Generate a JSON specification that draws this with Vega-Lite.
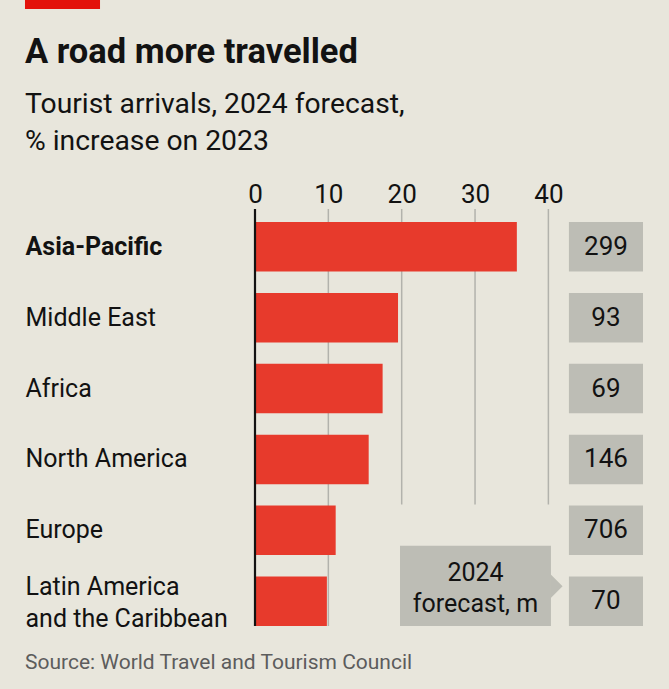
{
  "$schema": "https://vega.github.io/schema/vega-lite/v6.json",
  "width": 388,
  "height": 430,
  "autosize": {"type": "none"},
  "padding": {"left": 255, "top": 209, "right": 26, "bottom": 50},
  "background": "#e8e6dc",
  "config": {"view": {"stroke": null}, "font": "Roboto"},
  "title": {
    "text": "A road more travelled",
    "subtitle": ["Tourist arrivals, 2024 forecast,", "% increase on 2023"],
    "anchor": "start",
    "frame": "bounds",
    "font": "Roboto",
    "fontSize": 34.5,
    "fontWeight": "bold",
    "color": "#121212",
    "subtitleFont": "Roboto",
    "subtitleFontSize": 28.3,
    "subtitleColor": "#121212",
    "subtitleLineHeight": 37,
    "subtitlePadding": 20,
    "offset": -156
  },
  "data": {
    "values": [
      {"region": "Asia-Pacific", "pct": 35.7, "arrivals": 299},
      {"region": "Middle East", "pct": 19.5, "arrivals": 93},
      {"region": "Africa", "pct": 17.4, "arrivals": 69},
      {"region": "North America", "pct": 15.5, "arrivals": 146},
      {"region": "Europe", "pct": 11.0, "arrivals": 706},
      {"region": "Latin America and the Caribbean", "pct": 9.8, "arrivals": 70}
    ]
  },
  "layer": [
    {
      "data": {"values": [{"v": 10}]},
      "mark": {"type": "rule", "color": "#b2b2ac", "strokeWidth": 1.5},
      "encoding": {
        "x": {"field": "v", "type": "quantitative"},
        "y": {"datum": "Asia-Pacific", "type": "nominal", "bandPosition": -0.262},
        "y2": {"datum": "Latin America and the Caribbean", "bandPosition": 1}
      }
    },
    {
      "data": {"values": [{"v": 20}, {"v": 30}, {"v": 40}]},
      "mark": {"type": "rule", "color": "#b2b2ac", "strokeWidth": 1.5},
      "encoding": {
        "x": {"field": "v", "type": "quantitative"},
        "y": {"datum": "Asia-Pacific", "type": "nominal", "bandPosition": -0.262},
        "y2": {"datum": "Europe", "bandPosition": -0.02}
      }
    },
    {
      "mark": {"type": "bar", "color": "#e73a2c"},
      "encoding": {
        "x": {
          "field": "pct",
          "type": "quantitative",
          "scale": {"domain": [0, 52.9], "nice": false},
          "axis": {
            "orient": "top",
            "values": [0, 10, 20, 30, 40],
            "grid": false,
            "domain": false,
            "ticks": false,
            "tickSize": 0,
            "labelFontSize": 26,
            "labelColor": "#121212",
            "labelBaseline": "alphabetic",
            "labelPadding": 7,
            "labelFlush": false,
            "title": null
          }
        },
        "y": {
          "field": "region",
          "type": "nominal",
          "sort": null,
          "scale": {
            "domain": ["Asia-Pacific", "Middle East", "Africa", "North America", "Europe", "Latin America and the Caribbean"],
            "paddingInner": 0.3,
            "paddingOuter": 0.1834
          },
          "axis": {
            "orient": "left",
            "domain": false,
            "ticks": false,
            "tickSize": 0,
            "labelAlign": "left",
            "labelBaseline": "middle",
            "labelPadding": 230,
            "labelFontSize": 25,
            "labelColor": "#121212",
            "labelLimit": 400,
            "labelLineHeight": 32,
            "labelOffset": {"condition": {"test": "datum.value == 'Latin America and the Caribbean'", "value": -14}, "value": 0},
            "labelFontWeight": {"condition": {"test": "datum.value == 'Asia-Pacific'", "value": "bold"}, "value": "normal"},
            "labelExpr": "datum.value == 'Latin America and the Caribbean' ? ['Latin America', 'and the Caribbean'] : datum.value",
            "title": null
          }
        }
      }
    },
    {
      "data": {"values": [{"v": 0}]},
      "mark": {"type": "rule", "color": "#121212", "strokeWidth": 2.2},
      "encoding": {
        "x": {"field": "v", "type": "quantitative"},
        "y": {"datum": "Asia-Pacific", "type": "nominal", "bandPosition": -0.262},
        "y2": {"datum": "Latin America and the Caribbean", "bandPosition": 1}
      }
    },
    {
      "mark": {"type": "bar", "color": "#bdbdb5"},
      "encoding": {
        "x": {"datum": 42.8, "type": "quantitative"},
        "x2": {"datum": 52.9},
        "y": {"field": "region", "type": "nominal"}
      }
    },
    {
      "mark": {"type": "text", "fontSize": 26, "color": "#121212", "align": "center", "baseline": "middle"},
      "encoding": {
        "x": {"datum": 47.85, "type": "quantitative"},
        "y": {"field": "region", "type": "nominal"},
        "text": {"field": "arrivals", "type": "quantitative"}
      }
    },
    {
      "data": {"values": [{"label": "2024 forecast, m"}]},
      "mark": {"type": "rect", "color": "#bdbdb5"},
      "encoding": {
        "x": {"datum": 19.77, "type": "quantitative"},
        "x2": {"datum": 40.35},
        "y": {"datum": "Europe", "type": "nominal", "bandPosition": 0.81},
        "y2": {"datum": "Latin America and the Caribbean", "bandPosition": 1}
      }
    },
    {
      "data": {"values": [{"label": "2024 forecast, m"}]},
      "mark": {"type": "point", "shape": "M0,-1L1,0L0,1Z", "size": 576, "filled": true, "color": "#bdbdb5", "opacity": 1},
      "encoding": {
        "x": {"datum": 40.3, "type": "quantitative"},
        "y": {"datum": "Latin America and the Caribbean", "type": "nominal", "bandPosition": 0.2}
      }
    },
    {
      "data": {"values": [{"line1": "2024", "line2": "forecast, m"}]},
      "mark": {"type": "text", "fontSize": 25, "color": "#121212", "align": "center", "baseline": "alphabetic", "lineHeight": 31},
      "encoding": {
        "x": {"datum": 30.06, "type": "quantitative"},
        "y": {"datum": "Latin America and the Caribbean", "type": "nominal", "bandPosition": 0.1},
        "text": {"value": ["2024", "forecast, m"]}
      }
    },
    {
      "data": {"values": [{"note": "Source: World Travel and Tourism Council"}]},
      "mark": {"type": "text", "fontSize": 21, "color": "#5c5c5c", "align": "left", "baseline": "alphabetic"},
      "encoding": {
        "x": {"datum": -31.36, "type": "quantitative"},
        "y": {"datum": "Latin America and the Caribbean", "type": "nominal", "bandPosition": 1.863},
        "text": {"field": "note", "type": "nominal"}
      }
    },
    {
      "data": {"values": [{"tag": "accent"}]},
      "mark": {"type": "rect", "color": "#e3120b"},
      "encoding": {
        "x": {"datum": -31.36, "type": "quantitative"},
        "x2": {"datum": -21.13},
        "y": {"datum": "Asia-Pacific", "type": "nominal", "bandPosition": -4.476},
        "y2": {"datum": "Asia-Pacific", "bandPosition": -4.294}
      }
    }
  ]
}
